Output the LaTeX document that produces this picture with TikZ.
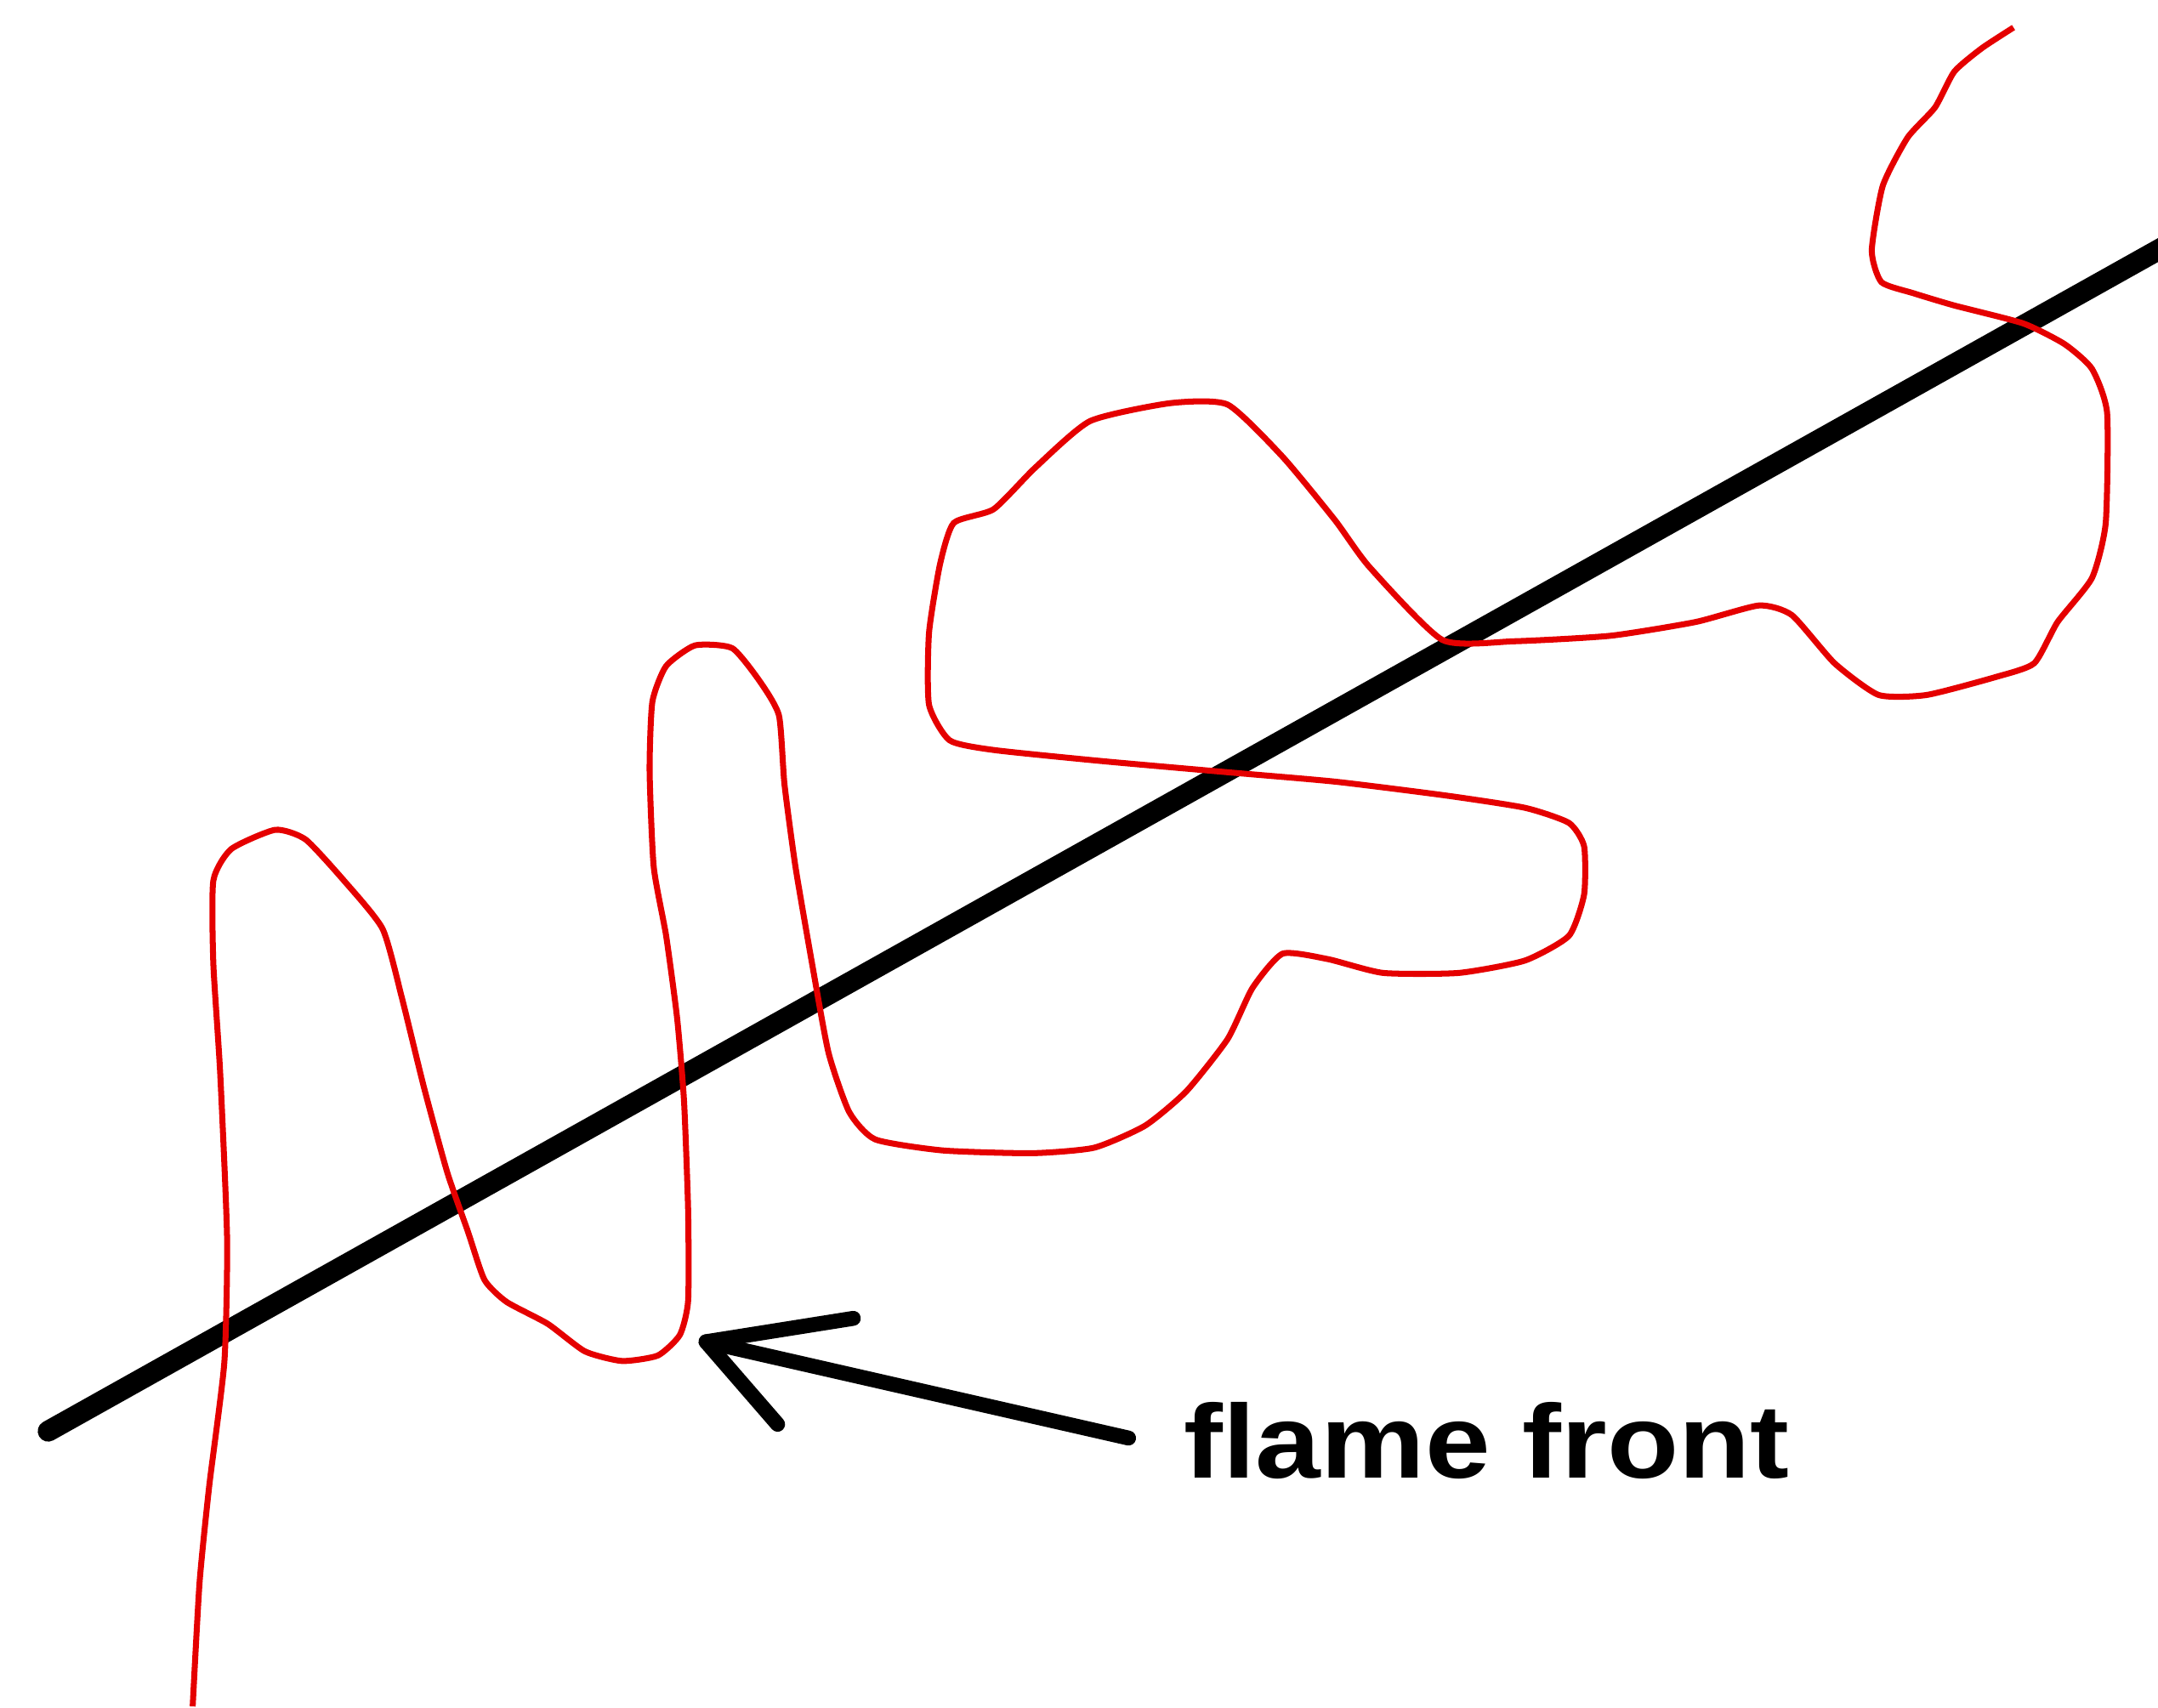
\documentclass[tikz,border=0pt]{standalone}
\usepackage{fontspec}
\setmainfont{Liberation Sans}
\begin{document}
\begin{tikzpicture}[x=0.016186cm,y=-0.016186cm,
  frontline/.style={line width=7pt,black,line cap=round},
  flame/.style={line width=2pt,red!90!black,line join=round},
  pointer/.style={line width=5pt,black,line cap=round,line join=round},
  labeltext/.style={font=\bfseries\fontsize{35}{40}\selectfont,inner sep=0pt,xscale=1.12,anchor=west}]
\useasboundingbox[fill=white] (0,0) rectangle (1568,1241);
% black line
\coordinate (a) at (35,1040);
\coordinate (b) at (1580,175);
\draw[frontline] (a) -- (b);
% red flame front curve
\draw[flame] plot[smooth,tension=0.35] coordinates {
(140,1240) (145,1150) (152,1080) (163,990) (165,900) (160,780) (155,700)
(155,640) (168,617) (200,603) (222,610) (250,640) (278,675) (292,725)
(308,790) (325,852) (340,895) (352,930) (368,946) (398,962) (425,982)
(452,989) (478,985) (494,970) (500,945) (500,880) (497,800) (492,740)
(484,680) (475,630) (472,560) (474,510) (484,484) (505,469) (532,471)
(552,495) (566,520) (570,570) (578,630) (590,700) (602,765) (617,808)
(636,828) (685,836) (750,838) (795,834) (832,818) (862,793) (892,755)
(910,718) (932,693) (965,697) (1005,707) (1060,707) (1108,698) (1140,680)
(1151,650) (1151,615) (1140,598) (1108,587) (1050,578) (970,568) (890,561)
(800,553) (722,545) (690,538) (675,512) (675,460) (683,410) (693,380)
(722,370) (752,340) (792,306) (850,293) (892,294) (932,332) (970,378)
(995,412) (1048,465) (1100,466) (1170,462) (1232,452) (1278,440) (1302,447)
(1333,482) (1365,505) (1400,505) (1450,492) (1478,482) (1495,452) (1520,420)
(1530,380) (1531,300) (1520,268) (1500,250) (1470,235) (1420,222) (1390,213)
(1367,205) (1360,182) (1368,135) (1386,100) (1406,78) (1420,52) (1440,35)
(1463,20)};
% label and arrow
\node[labeltext] (label) at (860,1047) {flame front};
\coordinate (tip) at (513,975);
\coordinate (barbup) at (620,958);
\coordinate (barbdown) at (565,1035);
\coordinate (tail) at (820,1045);
\draw[pointer] (tail) -- (tip);
\draw[pointer] (barbup) -- (tip) -- (barbdown);
\end{tikzpicture}
\end{document}
